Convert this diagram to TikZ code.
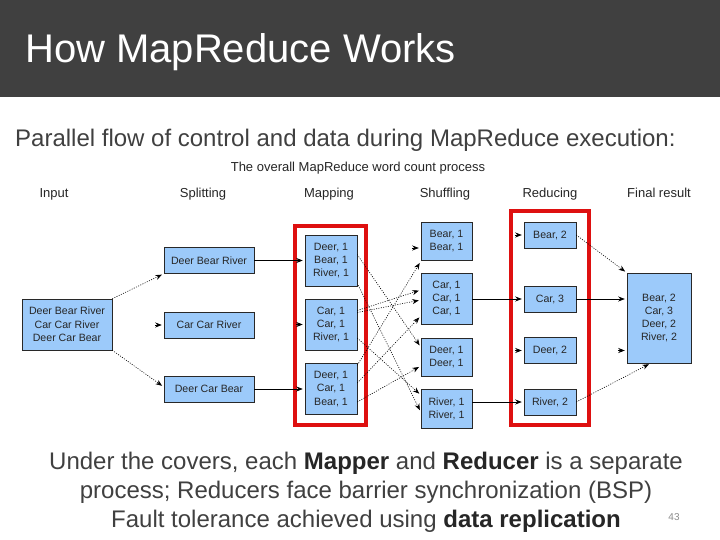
\documentclass[tikz,border=0pt]{standalone}
\usepackage{fontspec}
\setmainfont{Liberation Sans}
\usetikzlibrary{arrows.meta,calc}
\definecolor{barcol}{RGB}{64,64,64}
\definecolor{txtcol}{RGB}{64,64,64}
\definecolor{boxblue}{RGB}{156,202,250}
\definecolor{boxedge}{RGB}{40,40,40}
\definecolor{redframe}{RGB}{222,16,16}
\tikzset{
  box/.style={fill=boxblue, draw=boxedge, line width=0.5pt, inner sep=0pt, align=center,
    font=\fontsize{10.6}{13.3}\selectfont, text=black!85},
  hdr/.style={anchor=base, inner sep=0pt, font=\fontsize{13}{15}\selectfont, text=black!85},
  arr/.style={-{Stealth[length=6.5pt,width=5pt]}, line width=0.6pt, shorten >=2pt},
  dotarr/.style={arr, dash pattern=on 1pt off 1.4pt},
  frame/.style={draw=redframe, line width=4pt},
  body/.style={anchor=base, inner sep=0pt, font=\fontsize{24}{29}\selectfont, text=txtcol}
}
\begin{document}
\begin{tikzpicture}[x=1pt,y=-1pt]
\useasboundingbox (0,0) rectangle (720,540);
\fill[white] (0,0) rectangle (720,540);
\fill[barcol] (0,0) rectangle (720,97);
\node[anchor=base west, inner sep=0pt, text=white, font=\fontsize{40}{48}\selectfont] (title) at (25,63) {How MapReduce Works};
\node[anchor=base west, inner sep=0pt, text=txtcol, font=\fontsize{24}{29}\selectfont] (sub) at (15,146.5) {Parallel flow of control and data during MapReduce execution:};

% diagram titles
\node[hdr] (dtitle) at (358,172) {The overall MapReduce word count process};
\node[hdr] (hin) at (54,198) {Input};
\node[hdr] (hsp) at (203,198) {Splitting};
\node[hdr] (hmap) at (329,198) {Mapping};
\node[hdr] (hsh) at (445,198) {Shuffling};
\node[hdr] (hred) at (550,198) {Reducing};
\node[hdr] (hfin) at (659,198) {Final result};

% red frames
\draw[frame] (295,226.5) rectangle (366,425);
\draw[frame] (511,211) rectangle (589,425);

% boxes
\node[box, minimum width=90pt, minimum height=51pt] (in) at (67,324.5) {Deer Bear River\\Car Car River\\Deer Car Bear};
\node[box, minimum width=90pt, minimum height=26pt] (p1) at (209,260.5) {Deer Bear River};
\node[box, minimum width=90pt, minimum height=26pt] (p2) at (209,325) {Car Car River};
\node[box, minimum width=90pt, minimum height=26pt] (p3) at (209,389) {Deer Car Bear};
\node[box, minimum width=52pt, minimum height=51pt] (m1) at (331,260.5) {Deer, 1\\Bear, 1\\River, 1};
\node[box, minimum width=52pt, minimum height=51pt] (m2) at (331,324.5) {Car, 1\\Car, 1\\River, 1};
\node[box, minimum width=52pt, minimum height=51pt] (m3) at (331,389) {Deer, 1\\Car, 1\\Bear, 1};
\node[box, minimum width=51pt, minimum height=38pt] (s1) at (446.5,241) {Bear, 1\\Bear, 1};
\node[box, minimum width=51pt, minimum height=51pt] (s2) at (446.5,298.5) {Car, 1\\Car, 1\\Car, 1};
\node[box, minimum width=51pt, minimum height=38pt] (s3) at (446.5,357) {Deer, 1\\Deer, 1};
\node[box, minimum width=51pt, minimum height=39pt] (s4) at (446.5,408.5) {River, 1\\River, 1};
\node[box, minimum width=52pt, minimum height=26pt] (r1) at (550,235) {Bear, 2};
\node[box, minimum width=52pt, minimum height=26pt] (r2) at (550,299) {Car, 3};
\node[box, minimum width=52pt, minimum height=26pt] (r3) at (550,350.5) {Deer, 2};
\node[box, minimum width=52pt, minimum height=26pt] (r4) at (550,402) {River, 2};
\node[box, minimum width=64pt, minimum height=90pt] (f) at (659,318) {Bear, 2\\Car, 3\\Deer, 2\\River, 2};

% input -> splitting
\draw[dotarr] (in.north east) -- (p1.south west);
\draw[arr] ($(p2.west)+(-9,0)$) -- (p2.west);
\draw[dotarr] (in.south east) -- ($(p3.west)+(0,-2)$);
% splitting -> mapping
\draw[arr] (p1.east) -- (m1.west);
\draw[arr] ($(m2.west)+(-9,0)$) -- (m2.west);
\draw[arr] (p3.east) -- (m3.west);
% mapping -> shuffling
\draw[arr] ($(s1.west)+(-9,7)$) -- ($(s1.west)+(0,7)$);
\draw[dotarr] ($(m1.east)+(0,-6)$) -- ($(s3.west)+(0,-10)$);
\draw[dotarr] ($(m1.south east)+(1,-1)$) -- ($(s4.west)+(0,3.5)$);
\draw[dotarr] ($(m2.east)+(0,-14)$) -- ($(s2.west)+(0,-8.5)$);
\draw[dotarr] ($(m2.east)+(0,-12)$) -- ($(s2.west)+(0,1.5)$);
\draw[dotarr] ($(m2.east)+(0,13.5)$) -- ($(s4.west)+(0,-13.5)$);
\draw[dotarr] ($(m3.north east)+(0,2)$) -- ($(s1.south west)+(0,1)$);
\draw[dotarr] ($(m3.east)+(0,-6)$) -- ($(s2.west)+(0,17.5)$);
\draw[dotarr] ($(m3.east)+(0,13)$) -- ($(s3.west)+(0,9)$);
% shuffling -> reducing
\draw[arr] ($(r1.west)+(-9,0)$) -- (r1.west);
\draw[arr] (s2.east |- r2) -- (r2.west);
\draw[arr] ($(r3.west)+(-9,0)$) -- (r3.west);
\draw[arr] (s4.east |- r4) -- (r4.west);
% reducing -> final
\draw[dotarr] (r1.east) -- (f.north west);
\draw[arr] (r2.east) -- (f.west |- r2);
\draw[arr] ($(f.west |- r3)+(-9,0)$) -- (f.west |- r3);
\draw[dotarr] (r4.east) -- ($(f.south west)+(24,0)$);

% bottom text
\node[body] (l1) at (366,469) {Under the covers, each \textbf{\color{black!85}Mapper} and \textbf{\color{black!85}Reducer} is a separate};
\node[body] (l2) at (366,498) {process; Reducers face barrier synchronization (BSP)};
\node[body] (l3) at (366,527) {Fault tolerance achieved using \textbf{\color{black!85}data replication}};
\node[anchor=base, inner sep=0pt, text=black!45, font=\fontsize{10}{12}\selectfont] (pg) at (674,520) {43};
\end{tikzpicture}
\end{document}
